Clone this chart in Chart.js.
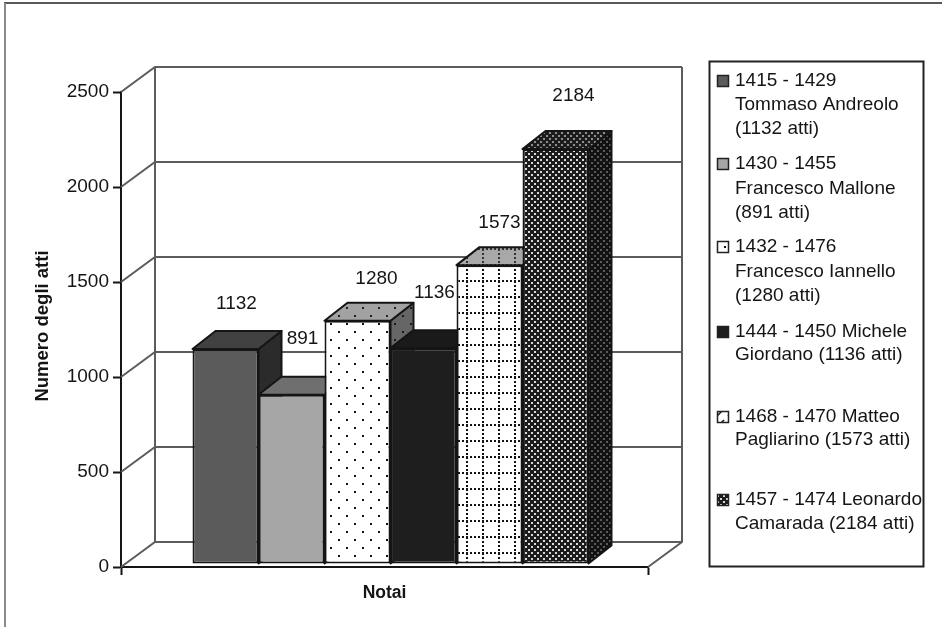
<!DOCTYPE html>
<html lang="it">
<head>
<meta charset="utf-8">
<title>Numero degli atti per notaio</title>
<style>
  html, body { margin: 0; padding: 0; background: #fff; }
  canvas { display: block; }
</style>
<script src="https://cdn.jsdelivr.net/npm/chart.js@4"></script>
</head>
<body>
<canvas id="grafico" width="942" height="627"></canvas>
<script>
// Atti rogati da ciascun notaio
const categorie = ['Notai'];
const atti = [1132, 891, 1280, 1136, 1573, 2184];
const legenda = [
  ['1415 - 1429', 'Tommaso Andreolo', '(1132 atti)'],
  ['1430 - 1455', 'Francesco Mallone', '(891 atti)'],
  ['1432 - 1476', 'Francesco Iannello', '(1280 atti)'],
  ['1444 - 1450 Michele', 'Giordano (1136 atti)'],
  ['1468 - 1470 Matteo', 'Pagliarino (1573 atti)'],
  ['1457 - 1474 Leonardo', 'Camarada (2184 atti)']
];
const tacche = [0, 500, 1000, 1500, 2000, 2500];

// Scostamenti delle etichette di valore rispetto alla colonna
const etichettaDx = [11, 11, 19, 11, 10, 18];
const etichettaSu = [49, 60, 46, 59, 46, 57];
// Riga di base di ogni voce della legenda
const legendaY = [
  [81, 105, 129],
  [164, 189, 213],
  [247, 272, 296],
  [332, 355],
  [417, 440],
  [500, 524]
];

const FONT = '"Liberation Sans", Arial, sans-serif';
const INCHIOSTRO = '#151515';
const PARETE = '#5c5c5c';

// Motivi di riempimento delle colonne
function motivo(lato, sfondo, disegna) {
  const c = document.createElement('canvas');
  c.width = c.height = lato;
  const g = c.getContext('2d');
  g.fillStyle = sfondo;
  g.fillRect(0, 0, lato, lato);
  disegna(g);
  return g.createPattern(c, 'repeat');
}
const puntini = (sfondo, colore) => motivo(16, sfondo, g => {
  g.fillStyle = colore;
  g.fillRect(4, 6, 2, 2);
  g.fillRect(12, 14, 2, 2);
});
const griglia = (sfondo, colore) => motivo(16, sfondo, g => {
  g.fillStyle = colore;
  for (let i = 0; i < 16; i += 4) {
    g.fillRect(i, 11, 2, 2);
    g.fillRect(12, i, 2, 2);
  }
});
const scacchi = (sfondo, chiaro) => motivo(6, sfondo, g => {
  g.fillStyle = chiaro;
  g.fillRect(0, 0, 2, 2);
  g.fillRect(3, 3, 2, 2);
});
const tratteggio = motivo(11, '#fff', g => {
  g.strokeStyle = INCHIOSTRO;
  g.lineWidth = 1.6;
  g.beginPath();
  g.moveTo(2, 9);
  g.lineTo(9, 2);
  g.stroke();
});

const facciate = [
  '#5b5b5b', '#a6a6a6', puntini('#fff', '#111'),
  '#1e1e1e', griglia('#fff', '#111'), scacchi('#1c1c1c', '#d8d8d8')
];
const cime = [
  '#414141', '#6f6f6f', puntini('#a2a2a2', '#222'),
  '#1a1a1a', griglia('#a8a8a8', '#333'), scacchi('#1c1c1c', '#8e8e8e')
];
const fianchi = [
  '#2b2b2b', '#555555', puntini('#666666', '#1a1a1a'),
  '#141414', griglia('#7a7a7a', '#222'), scacchi('#111111', '#5a5a5a')
];
const campioni = [
  '#5b5b5b', '#a6a6a6', puntini('#fff', '#111'),
  '#1e1e1e', tratteggio, scacchi('#1c1c1c', '#d8d8d8')
];

// Pareti di fondo, colonne in prospettiva, etichette e legenda
const PROF_PARETE = { x: 34, y: -25 };
const PROF_COLONNA = { x: 23, y: -18 };
const SCARTO = { x: 6, y: -3 };

function disegnaPareti(chart) {
  const { ctx, chartArea: a, scales: { y } } = chart;
  const dx = PROF_PARETE.x, dy = PROF_PARETE.y;
  ctx.save();
  ctx.strokeStyle = PARETE;
  ctx.lineWidth = 2;
  ctx.beginPath();
  tacche.forEach(v => {
    const py = y.getPixelForValue(v);
    ctx.moveTo(a.left, py);
    ctx.lineTo(a.left + dx, py + dy);
    ctx.lineTo(a.right + dx, py + dy);
  });
  ctx.moveTo(a.left + dx, a.top + dy);
  ctx.lineTo(a.left + dx, a.bottom + dy);
  ctx.moveTo(a.right + dx, a.top + dy);
  ctx.lineTo(a.right + dx, a.bottom + dy);
  ctx.lineTo(a.right, a.bottom);
  ctx.stroke();
  ctx.restore();
}

function disegnaVolume(ctx, bar, i) {
  const l = bar.x - bar.width / 2, r = bar.x + bar.width / 2;
  const t = bar.y, b = bar.base;
  const dx = PROF_COLONNA.x, dy = PROF_COLONNA.y;
  ctx.strokeStyle = INCHIOSTRO;
  ctx.lineWidth = 2;
  ctx.lineJoin = 'round';
  ctx.fillStyle = fianchi[i];
  ctx.beginPath();
  ctx.moveTo(r, t);
  ctx.lineTo(r + dx, t + dy);
  ctx.lineTo(r + dx, b + dy);
  ctx.lineTo(r, b);
  ctx.closePath();
  ctx.fill();
  ctx.stroke();
  ctx.fillStyle = cime[i];
  ctx.beginPath();
  ctx.moveTo(l, t);
  ctx.lineTo(l + dx, t + dy);
  ctx.lineTo(r + dx, t + dy);
  ctx.lineTo(r, t);
  ctx.closePath();
  ctx.fill();
  ctx.stroke();
}

const prospettiva = {
  id: 'prospettiva',
  // le colonne si coprono da sinistra a destra: qui si dipingono in quest'ordine
  beforeDatasetsDraw(chart) {
    const { ctx } = chart;
    disegnaPareti(chart);
    chart.getSortedVisibleDatasetMetas().forEach(meta => {
      ctx.save();
      ctx.translate(SCARTO.x, SCARTO.y);
      disegnaVolume(ctx, meta.data[0], meta.index);
      meta.controller.draw();
      ctx.restore();
    });
    return false;
  },
  afterDraw(chart) {
    const { ctx, scales: { y } } = chart;

    // valori sopra le colonne
    ctx.save();
    ctx.fillStyle = INCHIOSTRO;
    ctx.font = '19px ' + FONT;
    ctx.textAlign = 'center';
    ctx.textBaseline = 'middle';
    atti.forEach((v, i) => {
      const bar = chart.getDatasetMeta(i).data[0];
      ctx.fillText(String(v), bar.x + SCARTO.x + etichettaDx[i], y.getPixelForValue(v) - etichettaSu[i] + 1);
    });
    ctx.restore();

    // titolo dell'asse verticale
    ctx.save();
    ctx.fillStyle = INCHIOSTRO;
    ctx.font = 'bold 18.5px ' + FONT;
    ctx.textAlign = 'center';
    ctx.textBaseline = 'middle';
    ctx.translate(43, 326);
    ctx.rotate(-Math.PI / 2);
    ctx.fillText('Numero degli atti', 0, 0);
    ctx.restore();

    // cornice della legenda
    ctx.save();
    ctx.strokeStyle = '#222';
    ctx.lineWidth = 2;
    ctx.strokeRect(709.5, 61.5, 214, 505);
    ctx.font = '19px ' + FONT;
    ctx.textBaseline = 'middle';
    legenda.forEach((righe, i) => {
      const ys = legendaY[i];
      ctx.fillStyle = campioni[i];
      ctx.fillRect(717.5, ys[0] - 5.5, 11, 11);
      ctx.lineWidth = 1.5;
      ctx.strokeRect(717.5, ys[0] - 5.5, 11, 11);
      ctx.fillStyle = INCHIOSTRO;
      righe.forEach((testo, n) => ctx.fillText(testo, 735, ys[n]));
    });
    ctx.restore();

    // filetti del riquadro esterno
    ctx.save();
    ctx.strokeStyle = '#222';
    ctx.lineWidth = 1.5;
    ctx.beginPath();
    ctx.moveTo(4, 3);
    ctx.lineTo(942, 3);
    ctx.stroke();
    ctx.strokeStyle = '#8a8a8a';
    ctx.lineWidth = 2;
    ctx.beginPath();
    ctx.moveTo(5, 3);
    ctx.lineTo(5, 627);
    ctx.stroke();
    ctx.restore();
  }
};

new Chart(document.getElementById('grafico'), {
  type: 'bar',
  data: {
    labels: categorie,
    datasets: atti.map((v, i) => ({
      label: legenda[i].join(' '),
      data: [v],
      backgroundColor: facciate[i],
      borderColor: INCHIOSTRO,
      borderWidth: 2,
      borderSkipped: false
    }))
  },
  options: {
    responsive: false,
    animation: false,
    layout: { padding: { left: 0, top: 92, right: 294, bottom: 0 } },
    categoryPercentage: 0.7514,
    barPercentage: 1,
    plugins: {
      legend: { display: false },
      tooltip: { enabled: false },
      title: { display: false }
    },
    scales: {
      x: {
        type: 'category',
        afterFit(s) { s.height = 60; },
        grid: {
          drawOnChartArea: false, offset: true, tickLength: 8,
          tickColor: INCHIOSTRO, tickWidth: 2
        },
        border: { color: INCHIOSTRO, width: 2 },
        ticks: { display: false },
        title: {
          display: true, text: 'Notai', color: INCHIOSTRO,
          font: { family: FONT, size: 17.5, weight: 'bold' },
          padding: { top: 0, bottom: 23 }
        }
      },
      y: {
        min: 0,
        max: 2500,
        afterFit(s) { s.width = 121; },
        afterBuildTicks(s) { s.ticks = tacche.map(value => ({ value })); },
        grid: {
          drawOnChartArea: false, tickLength: 8,
          tickColor: INCHIOSTRO, tickWidth: 2
        },
        border: { color: INCHIOSTRO, width: 2 },
        ticks: {
          color: INCHIOSTRO, padding: 4, labelOffset: 0,
          font: { family: FONT, size: 19 },
          callback: v => String(v)
        }
      }
    }
  },
  plugins: [prospettiva]
});
</script>
</body>
</html>
